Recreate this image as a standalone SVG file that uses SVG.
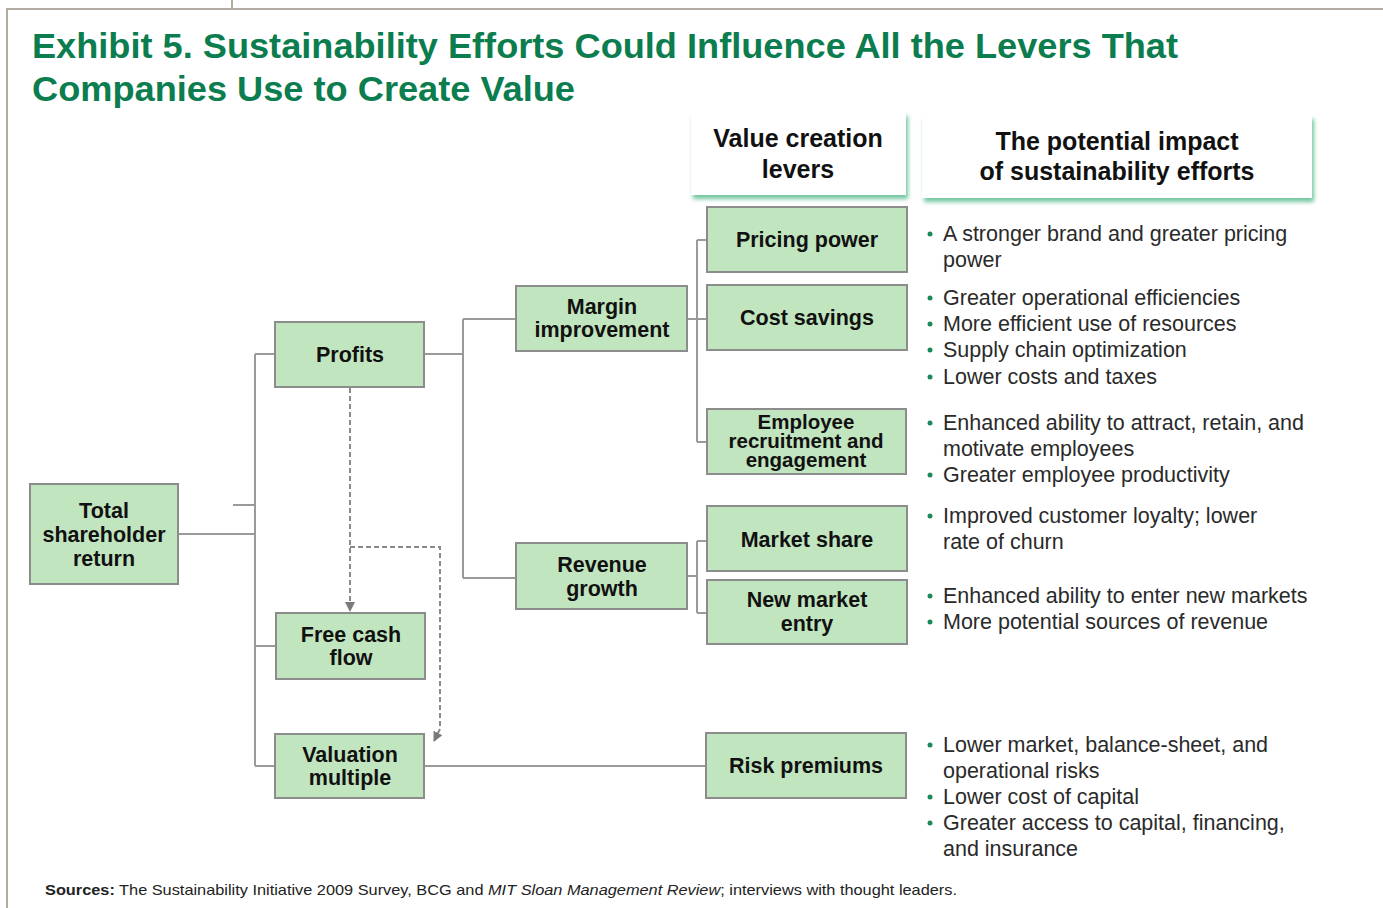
<svg xmlns="http://www.w3.org/2000/svg" width="1383" height="908" viewBox="0 0 1383 908">
<defs>
<style>
.frame{stroke:#b3aba2;stroke-width:2;fill:none}
.box{fill:#c1e5bf;stroke:#8c8c8c;stroke-width:2}
.hdr{fill:#ffffff}
.bt{font-family:"Liberation Sans",Arial,sans-serif;font-weight:bold;font-size:21.5px;fill:#111;text-anchor:middle}
.bts{font-size:20.5px}
.ht{font-family:"Liberation Sans",Arial,sans-serif;font-weight:bold;font-size:25px;fill:#111;text-anchor:middle}
.title{font-family:"Liberation Sans",Arial,sans-serif;font-weight:bold;font-size:35px;fill:#0b7d4e}
.bl{font-family:"Liberation Sans",Arial,sans-serif;font-size:21.5px;fill:#2a2a2a}
.dot{fill:#1a8a5a}
.ln{stroke:#9a9a9a;stroke-width:2;fill:none}
.dash{stroke:#8a8a8a;stroke-width:2;fill:none;stroke-dasharray:5,3}
.src{font-family:"Liberation Sans",Arial,sans-serif;font-size:15px;fill:#222}
</style>
<filter id="gshadow" x="-10%" y="-10%" width="125%" height="140%">
<feDropShadow dx="2" dy="4" stdDeviation="2" flood-color="#4fb888" flood-opacity="0.8"/>
</filter>
<marker id="arr" viewBox="0 0 10 10" refX="9" refY="5" markerWidth="5" markerHeight="5" orient="auto" markerUnits="strokeWidth">
<path d="M0,0 L10,5 L0,10 z" fill="#7a7a7a"/>
</marker>
</defs>
<rect width="1383" height="908" fill="#ffffff"/>
<g id="frame">
<path class="frame" d="M7,908 V9 H1383"/>
<line class="frame" x1="232" y1="0" x2="232" y2="9"/>
</g>
<g id="title">
<text class="title" x="32" y="58" textLength="1146" lengthAdjust="spacingAndGlyphs">Exhibit 5. Sustainability Efforts Could Influence All the Levers That</text>
<text class="title" x="32" y="101" textLength="543" lengthAdjust="spacingAndGlyphs">Companies Use to Create Value</text>
</g>
<g id="header-levers">
<rect class="hdr" x="691" y="112" width="215" height="83" filter="url(#gshadow)"/>
<text class="ht" x="798" y="147">Value creation</text>
<text class="ht" x="798" y="178">levers</text>
</g>
<g id="header-impact">
<rect class="hdr" x="922" y="115" width="390" height="83" filter="url(#gshadow)"/>
<text class="ht" x="1117" y="150">The potential impact</text>
<text class="ht" x="1117" y="180">of sustainability efforts</text>
</g>
<g id="connectors">
<line class="ln" x1="178" y1="534" x2="255" y2="534"/>
<line class="ln" x1="233" y1="505" x2="255" y2="505"/>
<line class="ln" x1="255" y1="354" x2="255" y2="766"/>
<line class="ln" x1="255" y1="354" x2="275" y2="354"/>
<line class="ln" x1="255" y1="646" x2="276" y2="646"/>
<line class="ln" x1="255" y1="766" x2="275" y2="766"/>
<line class="ln" x1="424" y1="354" x2="463" y2="354"/>
<line class="ln" x1="463" y1="319" x2="463" y2="578"/>
<line class="ln" x1="463" y1="319" x2="516" y2="319"/>
<line class="ln" x1="463" y1="578" x2="516" y2="578"/>
<line class="ln" x1="687" y1="319" x2="707" y2="319"/>
<line class="ln" x1="697" y1="240" x2="697" y2="442"/>
<line class="ln" x1="697" y1="240" x2="707" y2="240"/>
<line class="ln" x1="697" y1="442" x2="707" y2="442"/>
<line class="ln" x1="687" y1="576" x2="697" y2="576"/>
<line class="ln" x1="697" y1="541" x2="697" y2="613"/>
<line class="ln" x1="697" y1="541" x2="707" y2="541"/>
<line class="ln" x1="697" y1="613" x2="707" y2="613"/>
<line class="ln" x1="424" y1="766" x2="706" y2="766"/>
<path class="dash" d="M350,364 V611" marker-end="url(#arr)"/>
<path class="dash" d="M350,547 H440 V729 L434,741" marker-end="url(#arr)"/>
</g>
<g id="node-tsr">
<rect class="box" x="30" y="484" width="148" height="100"/>
<text class="bt" x="104" y="518">Total</text>
<text class="bt" x="104" y="542">shareholder</text>
<text class="bt" x="104" y="566">return</text>
</g>
<g id="node-profits">
<rect class="box" x="275" y="322" width="149" height="65"/>
<text class="bt" x="350" y="362">Profits</text>
</g>
<g id="node-fcf">
<rect class="box" x="276" y="613" width="149" height="66"/>
<text class="bt" x="351" y="642">Free cash</text>
<text class="bt" x="351" y="665">flow</text>
</g>
<g id="node-valuation">
<rect class="box" x="275" y="734" width="149" height="64"/>
<text class="bt" x="350" y="762">Valuation</text>
<text class="bt" x="350" y="785">multiple</text>
</g>
<g id="node-margin">
<rect class="box" x="516" y="286" width="171" height="65"/>
<text class="bt" x="602" y="314">Margin</text>
<text class="bt" x="602" y="337">improvement</text>
</g>
<g id="node-revenue">
<rect class="box" x="516" y="543" width="171" height="66"/>
<text class="bt" x="602" y="572">Revenue</text>
<text class="bt" x="602" y="596">growth</text>
</g>
<g id="node-pricing">
<rect class="box" x="707" y="207" width="200" height="65"/>
<text class="bt" x="807" y="247">Pricing power</text>
</g>
<g id="node-cost">
<rect class="box" x="707" y="285" width="200" height="65"/>
<text class="bt" x="807" y="325">Cost savings</text>
</g>
<g id="node-employee">
<rect class="box" x="707" y="409" width="199" height="65"/>
<text class="bt bts" x="806" y="429">Employee</text>
<text class="bt bts" x="806" y="448">recruitment and</text>
<text class="bt bts" x="806" y="467">engagement</text>
</g>
<g id="node-market-share">
<rect class="box" x="707" y="506" width="200" height="65"/>
<text class="bt" x="807" y="547">Market share</text>
</g>
<g id="node-new-market">
<rect class="box" x="707" y="580" width="200" height="64"/>
<text class="bt" x="807" y="607">New market</text>
<text class="bt" x="807" y="631">entry</text>
</g>
<g id="node-risk">
<rect class="box" x="706" y="733" width="200" height="65"/>
<text class="bt" x="806" y="773">Risk premiums</text>
</g>
<g id="impacts">
<circle class="dot" cx="930" cy="234" r="2.5"/>
<text class="bl" x="943" y="241">A stronger brand and greater pricing</text>
<text class="bl" x="943" y="267">power</text>
<circle class="dot" cx="930" cy="298" r="2.5"/>
<text class="bl" x="943" y="305">Greater operational efficiencies</text>
<circle class="dot" cx="930" cy="324" r="2.5"/>
<text class="bl" x="943" y="331">More efficient use of resources</text>
<circle class="dot" cx="930" cy="350" r="2.5"/>
<text class="bl" x="943" y="357">Supply chain optimization</text>
<circle class="dot" cx="930" cy="377" r="2.5"/>
<text class="bl" x="943" y="384">Lower costs and taxes</text>
<circle class="dot" cx="930" cy="423" r="2.5"/>
<text class="bl" x="943" y="430">Enhanced ability to attract, retain, and</text>
<text class="bl" x="943" y="456">motivate employees</text>
<circle class="dot" cx="930" cy="475" r="2.5"/>
<text class="bl" x="943" y="482">Greater employee productivity</text>
<circle class="dot" cx="930" cy="516" r="2.5"/>
<text class="bl" x="943" y="523">Improved customer loyalty; lower</text>
<text class="bl" x="943" y="549">rate of churn</text>
<circle class="dot" cx="930" cy="596" r="2.5"/>
<text class="bl" x="943" y="603">Enhanced ability to enter new markets</text>
<circle class="dot" cx="930" cy="622" r="2.5"/>
<text class="bl" x="943" y="629">More potential sources of revenue</text>
<circle class="dot" cx="930" cy="745" r="2.5"/>
<text class="bl" x="943" y="752">Lower market, balance-sheet, and</text>
<text class="bl" x="943" y="778">operational risks</text>
<circle class="dot" cx="930" cy="797" r="2.5"/>
<text class="bl" x="943" y="804">Lower cost of capital</text>
<circle class="dot" cx="930" cy="823" r="2.5"/>
<text class="bl" x="943" y="830">Greater access to capital, financing,</text>
<text class="bl" x="943" y="856">and insurance</text>
</g>
<g id="sources">
<text class="src" x="45" y="895" textLength="912" lengthAdjust="spacingAndGlyphs"><tspan font-weight="bold">Sources:</tspan> The Sustainability Initiative 2009 Survey, BCG and <tspan font-style="italic">MIT Sloan Management Review</tspan>; interviews with thought leaders.</text>
</g>
</svg>
